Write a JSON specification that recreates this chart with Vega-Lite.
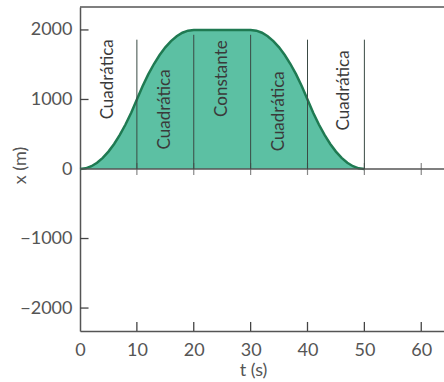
{
  "$schema": "https://vega.github.io/schema/vega-lite/v6.json",
  "width": 364,
  "height": 324,
  "autosize": "none",
  "padding": {"left": 80, "top": 7, "right": 0, "bottom": 51},
  "background": "white",
  "config": {
    "view": {"stroke": null},
    "font": "Lato",
    "axis": {
      "grid": false,
      "domainColor": "#555",
      "domainWidth": 1.5,
      "ticks": false,
      "labelColor": "#555",
      "labelFont": "Lato",
      "labelFontSize": 18,
      "titleColor": "#555",
      "titleFont": "Lato",
      "titleFontSize": 18,
      "titleFontWeight": "normal"
    }
  },
  "datasets": {
    "curve": [
      {"t": 0, "x": 0}, {"t": 1, "x": 10}, {"t": 2, "x": 40}, {"t": 3, "x": 90}, {"t": 4, "x": 160},
      {"t": 5, "x": 250}, {"t": 6, "x": 360}, {"t": 7, "x": 490}, {"t": 8, "x": 640}, {"t": 9, "x": 810},
      {"t": 10, "x": 1000}, {"t": 11, "x": 1190}, {"t": 12, "x": 1360}, {"t": 13, "x": 1510}, {"t": 14, "x": 1640},
      {"t": 15, "x": 1750}, {"t": 16, "x": 1840}, {"t": 17, "x": 1910}, {"t": 18, "x": 1960}, {"t": 19, "x": 1990},
      {"t": 20, "x": 2000}, {"t": 25, "x": 2000}, {"t": 30, "x": 2000},
      {"t": 31, "x": 1990}, {"t": 32, "x": 1960}, {"t": 33, "x": 1910}, {"t": 34, "x": 1840}, {"t": 35, "x": 1750},
      {"t": 36, "x": 1640}, {"t": 37, "x": 1510}, {"t": 38, "x": 1360}, {"t": 39, "x": 1190}, {"t": 40, "x": 1000},
      {"t": 41, "x": 810}, {"t": 42, "x": 640}, {"t": 43, "x": 490}, {"t": 44, "x": 360}, {"t": 45, "x": 250},
      {"t": 46, "x": 160}, {"t": 47, "x": 90}, {"t": 48, "x": 40}, {"t": 49, "x": 10}, {"t": 50, "x": 0}
    ],
    "dividers": [
      {"t": 10, "x": 0, "top": 1860}, {"t": 20, "x": 0, "top": 1930}, {"t": 30, "x": 0, "top": 1930}, {"t": 40, "x": 0, "top": 1860}, {"t": 50, "x": 0, "top": 1860}
    ],
    "zeroticks": [
      {"t": 10, "x": 0}, {"t": 20, "x": 0}, {"t": 30, "x": 0}, {"t": 40, "x": 0}, {"t": 50, "x": 0}, {"t": 60, "x": 0}
    ],
    "xticks": [
      {"t": 10, "x": -2330, "x2": -2200}, {"t": 20, "x": -2330, "x2": -2200}, {"t": 30, "x": -2330, "x2": -2200},
      {"t": 40, "x": -2330, "x2": -2200}, {"t": 50, "x": -2330, "x2": -2200}, {"t": 60, "x": -2330, "x2": -2200}
    ],
    "yticks": [
      {"x": -2000, "t": 0, "t2": 1.5}, {"x": -1000, "t": 0, "t2": 1.5}, {"x": 1000, "t": 0, "t2": 1.5}, {"x": 2000, "t": 0, "t2": 1.5}
    ],
    "hlines": [
      {"x": 0}, {"x": 2330}
    ],
    "labels": [
      {"t": 5, "x": 1290, "label": "Cuadrática"},
      {"t": 15, "x": 857, "label": "Cuadrática"},
      {"t": 25, "x": 1300, "label": "Constante"},
      {"t": 35, "x": 830, "label": "Cuadrática"},
      {"t": 46.4, "x": 1130, "label": "Cuadrática"}
    ]
  },
  "layer": [
    {
      "data": {"name": "curve"},
      "mark": {"type": "area", "color": "#5cc0a3", "opacity": 1, "line": {"color": "#1f7a52", "strokeWidth": 2.5}},
      "encoding": {
        "x": {
          "field": "t", "type": "quantitative",
          "scale": {"domain": [0, 64], "nice": false},
          "axis": {"values": [0, 10, 20, 30, 40, 50, 60], "format": "d", "title": "t (s)", "titleX": 173, "titleY": 30, "titleBaseline": "top", "labelPadding": 10, "labelFlush": false}
        },
        "y": {
          "field": "x", "type": "quantitative",
          "scale": {"domain": [-2330, 2330], "nice": false, "zero": false},
          "axis": {"values": [-2000, -1000, 0, 1000, 2000], "format": "d", "title": "x (m)", "titleX": -51, "titleY": 158, "labelPadding": 8}
        }
      }
    },
    {
      "data": {"name": "hlines"},
      "mark": {"type": "rule", "color": "#555", "strokeWidth": 1.5},
      "encoding": {"y": {"field": "x", "type": "quantitative"}}
    },
    {
      "data": {"name": "zeroticks"},
      "mark": {"type": "tick", "orient": "vertical", "color": "#555", "size": 12, "thickness": 1.2},
      "encoding": {
        "x": {"field": "t", "type": "quantitative"},
        "y": {"field": "x", "type": "quantitative"}
      }
    },
    {
      "data": {"name": "xticks"},
      "mark": {"type": "rule", "color": "#444", "strokeWidth": 1.3},
      "encoding": {
        "x": {"field": "t", "type": "quantitative"},
        "y": {"field": "x", "type": "quantitative"},
        "y2": {"field": "x2"}
      }
    },
    {
      "data": {"name": "yticks"},
      "mark": {"type": "rule", "color": "#444", "strokeWidth": 1.3},
      "encoding": {
        "y": {"field": "x", "type": "quantitative"},
        "x": {"field": "t", "type": "quantitative"},
        "x2": {"field": "t2"}
      }
    },
    {
      "data": {"name": "dividers"},
      "mark": {"type": "rule", "color": "#3a4a44", "strokeWidth": 1},
      "encoding": {
        "x": {"field": "t", "type": "quantitative"},
        "y": {"field": "x", "type": "quantitative"},
        "y2": {"field": "top"}
      }
    },
    {
      "data": {"name": "labels"},
      "mark": {"type": "text", "angle": 270, "align": "center", "baseline": "middle", "font": "Lato", "fontSize": 17, "color": "#3a3a3a"},
      "encoding": {
        "x": {"field": "t", "type": "quantitative"},
        "y": {"field": "x", "type": "quantitative"},
        "text": {"field": "label"}
      }
    }
  ]
}
